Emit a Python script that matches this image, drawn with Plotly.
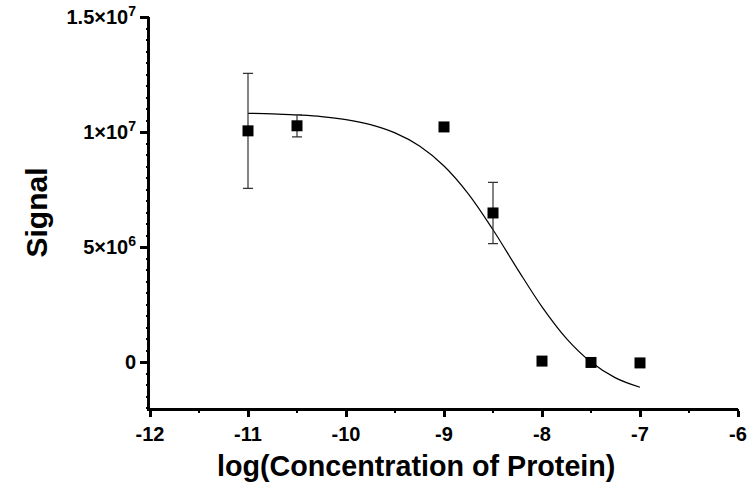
import plotly.graph_objects as go

# Measured points
log_conc = [-11, -10.5, -9, -8.5, -8, -7.5, -7]
signal = [1.005e7, 1.027e7, 1.022e7, 6.48e6, 4e4, -2e4, -4e4]
signal_err = [2.5e6, 4.8e5, 0, 1.33e6, 0, 0, 0]

# Fitted curve
curve_x = [-11, -10.75, -10.5, -10.25, -10, -9.75, -9.5, -9.25, -9, -8.75,
           -8.5, -8.25, -8, -7.75, -7.5, -7.25, -7]
curve_y = [1.081e7, 1.079e7, 1.074e7, 1.067e7, 1.054e7, 1.032e7, 9.96e6, 9.39e6,
           8.52e6, 7.30e6, 5.75e6, 4.04e6, 2.40e6, 1.02e6, 0.0, -6.9e5, -1.1e6]

y_tickvals = [0, 5e6, 1e7, 1.5e7]
y_ticktext = ["0", "5×10<sup>6</sup>", "1×10<sup>7</sup>", "1.5×10<sup>7</sup>"]
x_tickvals = [-12, -11, -10, -9, -8, -7, -6]
x_ticktext = ["-12", "-11", "-10", "-9", "-8", "-7", "-6"]

x_range = [-12, -6]
y_range = [-2e6, 1.5e7]
x_minor_step = 0.5
y_minor_step = 5e5

x_title = "log(Concentration of Protein)"
y_title = "Signal"

FONT = "Liberation Sans"

fig = go.Figure()
fig.add_trace(go.Scatter(
    x=curve_x, y=curve_y, mode="lines", line=dict(color="black", width=1.2, shape="spline"),
    showlegend=False, hoverinfo="skip"))
fig.add_trace(go.Scatter(
    x=log_conc, y=signal, mode="markers",
    marker=dict(symbol="square", size=11, color="black"),
    error_y=dict(type="data", array=signal_err, visible=True, color="#333333",
                 thickness=1.2, width=5),
    showlegend=False))
# invisible trace to anchor the minor-tick overlay axes
fig.add_trace(go.Scatter(
    x=[x_range[0]], y=[y_range[0]], xaxis="x2", yaxis="y2", mode="markers",
    marker=dict(opacity=0), showlegend=False, hoverinfo="skip"))

fig.add_annotation(
    text="<b>%s</b>" % x_title, xref="paper", yref="paper",
    x=0.452, y=-0.148, xanchor="center", yanchor="middle", showarrow=False,
    font=dict(family=FONT, size=28.7, color="black"))

fig.update_layout(
    width=749, height=483,
    margin=dict(l=150, r=11, t=17, b=75, autoexpand=False),
    plot_bgcolor="white", paper_bgcolor="white",
    font=dict(family=FONT, color="black", size=16),
    xaxis=dict(
        range=x_range, tickmode="array", tickvals=x_tickvals,
        ticktext=["<b>%s</b>" % t for t in x_ticktext],
        automargin=False,
        showgrid=False, zeroline=False, showline=True, linecolor="black", linewidth=3,
        ticks="outside", ticklen=6, tickwidth=2.5, tickcolor="black",
        tickfont=dict(family=FONT, size=20, color="black"),
    ),
    yaxis=dict(
        range=y_range, tickmode="array", tickvals=y_tickvals,
        ticktext=["<b>%s</b>" % t for t in y_ticktext],
        automargin=False,
        showgrid=False, zeroline=False, showline=True, linecolor="black", linewidth=3,
        ticks="outside", ticklen=7, tickwidth=2.5, tickcolor="black",
        tickfont=dict(family=FONT, size=20, color="black"),
        title=dict(text="<b>%s</b>" % y_title, standoff=10,
                   font=dict(family=FONT, size=30, color="black")),
    ),
    xaxis2=dict(
        range=x_range, overlaying="x", anchor="y2", side="bottom",
        tickmode="linear", tick0=x_range[0], dtick=x_minor_step,
        ticks="outside", ticklen=3.5, tickwidth=2, tickcolor="black",
        showticklabels=False, showgrid=False, zeroline=False, showline=False,
        automargin=False,
    ),
    yaxis2=dict(
        range=y_range, overlaying="y", anchor="x2", side="left",
        tickmode="linear", tick0=0, dtick=y_minor_step,
        ticks="outside", ticklen=3.5, tickwidth=2, tickcolor="black",
        showticklabels=False, showgrid=False, zeroline=False, showline=False,
        automargin=False,
    ),
)

fig.write_html("out.html", config={"displayModeBar": False},
               post_script="document.body.style.margin='0';")
